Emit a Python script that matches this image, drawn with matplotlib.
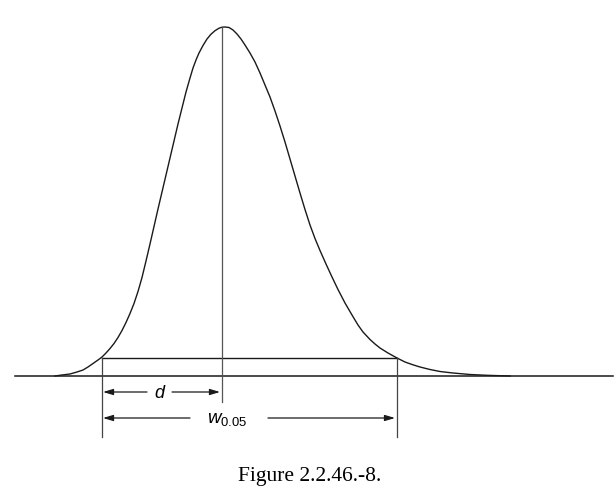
import matplotlib.pyplot as plt

plt.rcParams['mathtext.fontset'] = 'custom'
plt.rcParams['mathtext.it'] = 'Liberation Sans:italic'
plt.rcParams['mathtext.rm'] = 'Liberation Sans'

# peak outline (x position, height above baseline)
peak_x = [55, 62, 70, 77, 83, 88, 93, 98, 102, 106, 110, 114, 118, 122,
          126, 130, 134, 138, 142, 146, 150, 154, 158, 162, 166, 170, 174,
          178, 182, 186, 190, 193, 196, 199, 203, 207, 211, 215, 219, 222,
          225, 229, 233, 237, 241, 245, 250, 255, 260, 265, 270, 275, 280,
          285, 290, 295, 300, 305, 310, 315, 320, 326, 332, 338, 345, 352,
          358, 363, 370, 375, 380, 388, 397, 405, 412, 420, 430, 440, 453,
          470, 487, 500, 510]
peak_h = [0, 1, 2, 4, 6, 9, 12.5, 16, 19, 23, 27.5, 32.5, 38.5, 45.5,
          53.5, 62.5, 72.5, 84.5, 98.5, 115, 132, 149.5, 167, 184, 201, 218, 235,
          252, 268, 284, 298, 308, 316, 323, 330.5, 337, 341.8, 345.3, 347.8, 348.8,
          349, 348.5, 346, 342, 337, 331, 323, 314, 303, 291, 279, 265, 250,
          234, 217, 200, 183, 166.5, 151, 137.5, 125.5, 112, 99, 86.5, 73, 61,
          51, 44, 36.5, 32, 28, 23, 18, 14, 11.5, 9, 6.5, 4.5, 3,
          1.5, 0.7, 0.3, 0]

base_x = [15, 613]
t_peak = 222
h_top = 349
x_left = 102
x_right = 397
h_005 = 18
d_label = 'd'
w_label = r'$\mathit{w}_{\mathrm{0.05}}$'
caption = 'Figure 2.2.46.-8.'

fig = plt.figure(figsize=(6.15, 4.98), dpi=100)
ax = fig.add_axes([0, 0, 1, 1])
ax.set_xlim(0, 615)
ax.set_ylim(-122, 376)
ax.axis('off')

ink = '#1a1a1a'
ax.plot(peak_x, peak_h, color=ink, lw=1.0, solid_joinstyle='round')
ax.plot(base_x, [0, 0], color=ink, lw=1.1)
ax.plot([x_left, x_right], [h_005, h_005], color=ink, lw=1.0)
ax.plot([t_peak, t_peak], [h_top, -26], color='#555555', lw=0.9)
ax.plot([x_left, x_left], [h_005, -61], color='#444444', lw=0.9)
ax.plot([x_right, x_right], [h_005, -61], color='#444444', lw=0.9)

arr = dict(arrowstyle='-|>,head_length=0.6,head_width=0.18', color=ink, lw=0.9,
           shrinkA=0, shrinkB=0)
# d arrow
y_d = -16
ax.annotate('', xy=(x_left + 1, y_d), xytext=(147, y_d), arrowprops=arr)
ax.annotate('', xy=(t_peak - 2, y_d), xytext=(172, y_d), arrowprops=arr)
ax.text(159, y_d - 1, d_label, ha='center', va='center', fontsize=13,
        style='italic', family='Liberation Sans')
# w0.05 arrow
y_w = -42
ax.annotate('', xy=(x_left + 1, y_w), xytext=(190, y_w), arrowprops=arr)
ax.annotate('', xy=(x_right - 2, y_w), xytext=(268, y_w), arrowprops=arr)
ax.text(227, y_w, w_label, ha='center', va='center', fontsize=13.5)

ax.text(310, -105, caption, ha='center', va='baseline', fontsize=15.5,
        family='Liberation Serif')

fig.savefig('out.png', dpi=100)
